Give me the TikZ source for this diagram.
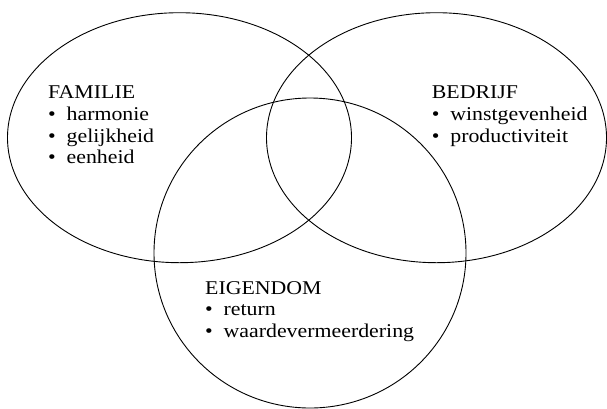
\documentclass[tikz,border=0pt]{standalone}
\usepackage{fontspec}
\setmainfont{Liberation Serif}[FakeStretch=1.12]
\begin{document}
\begin{tikzpicture}[x=1pt,y=-1pt,
  set/.style={draw=black,line width=0.9pt},
  setlabel/.style={anchor=base west,inner sep=0pt,font=\fontsize{19.5}{21.8}\selectfont}]
\newcommand{\itm}{\makebox[18.5pt][l]{\textbullet}}
\newcommand{\lines}[1]{\vtop{\baselineskip=21.8pt\halign{##\hfil\cr#1\crcr}}}
\useasboundingbox (0,0) rectangle (607,408);
% the three sets
\draw[set] (179.5,137.7) ellipse [x radius=172,y radius=125];
\draw[set] (436.5,137.7) ellipse [x radius=170,y radius=125];
\draw[set] (310,253) ellipse [x radius=156,y radius=155];
% their labels
\node[setlabel] (familie) at (48,98.5) {\lines{FAMILIE\cr\itm harmonie\cr\itm gelijkheid\cr\itm eenheid}};
\node[setlabel] (bedrijf) at (431.7,98.5) {\lines{BEDRIJF\cr\itm winstgevenheid\cr\itm productiviteit}};
\node[setlabel] (eigendom) at (205,294) {\lines{EIGENDOM\cr\itm return\cr\itm waardevermeerdering}};
\end{tikzpicture}
\end{document}
